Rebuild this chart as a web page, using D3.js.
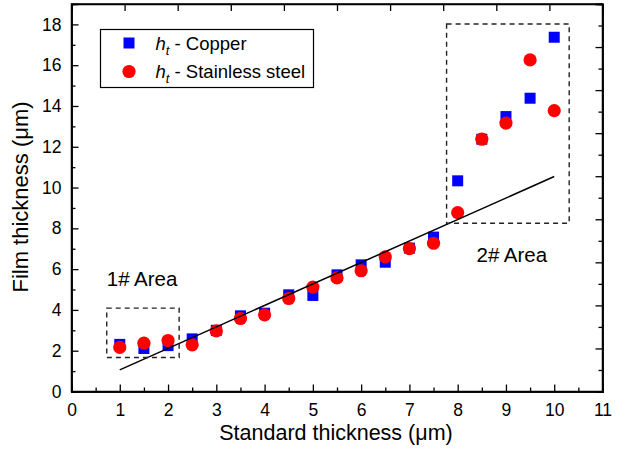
<!DOCTYPE html>
<html>
<head>
<meta charset="utf-8">
<script src="https://cdn.jsdelivr.net/npm/d3@7/dist/d3.min.js"></script>
<style>
  html, body { margin: 0; padding: 0; background: #fff; }
  svg { display: block; font-family: "Liberation Sans", Arial, sans-serif; }
</style>
</head>
<body>
<svg id="chart" width="623" height="449"></svg>
<script>
// Standard thickness (µm) of each sample
const standardThickness = [1, 1.5, 2, 2.5, 3, 3.5, 4, 4.5, 5, 5.5, 6, 6.5, 7, 7.5, 8, 8.5, 9, 9.5, 10];
// Measured film thickness h_t (µm) on copper substrate
const copperThickness = [2.31, 2.11, 2.25, 2.58, 3.0, 3.71, 3.84, 4.74, 4.71, 5.72, 6.21, 6.34, 7.03, 7.57, 10.33, 12.37, 13.48, 14.38, 17.37];
// Measured film thickness h_t (µm) on stainless steel substrate
const steelThickness = [2.16, 2.37, 2.5, 2.29, 2.97, 3.58, 3.76, 4.56, 5.12, 5.57, 5.92, 6.6, 7.01, 7.27, 8.77, 12.37, 13.16, 16.26, 13.77];
// Reference line endpoints
const fitX = [1, 10];
const fitY = [1.06, 10.54];
// Highlighted regions
const areaNames = ["1# Area", "2# Area"];
const areaX0 = [0.73, 7.77];
const areaX1 = [2.23, 10.31];
const areaY0 = [1.67, 8.25];
const areaY1 = [4.09, 18.02];
const areaLabelX = [0.73, 8.39];
const areaLabelY = [5.15, 6.37];
// Axis ticks
const xTickValues = d3.range(0, 12, 1);
const yTickValues = d3.range(0, 20, 2);

const svg = d3.select("#chart");
const plotLeft = 71.5, plotRight = 602.5, plotTop = 4, plotBottom = 391.5;

const x = d3.scaleLinear().domain([0, 11]).range([plotLeft, plotRight]);
const y = d3.scaleLinear().domain([0, 19]).range([plotBottom, plotTop]);
// secondary frame scales used for the top/right tick marks
const xTop = d3.scaleLinear().domain([0, 10]).range([plotLeft, plotRight]);
const yRight = d3.scaleLinear().domain([0, 18]).range([plotBottom, plotTop]);

const tickFont = "17.5px";

// Bottom axis: major ticks + labels, minor ticks inward
const gx = svg.append("g").attr("transform", `translate(0,${plotBottom})`);
gx.call(d3.axisBottom(x).tickValues(xTickValues).tickSize(-7).tickPadding(12).tickFormat(d3.format("d")));
gx.append("g").call(d3.axisBottom(x).tickValues(d3.range(0.5, 11, 1)).tickSize(-4).tickFormat(""));

// Left axis
const gy = svg.append("g").attr("transform", `translate(${plotLeft},0)`);
gy.call(d3.axisLeft(y).tickValues(yTickValues).tickSize(-7).tickPadding(10).tickFormat(d3.format("d")));
gy.append("g").call(d3.axisLeft(y).tickValues(d3.range(1, 19, 2)).tickSize(-4).tickFormat(""));

// Top frame ticks
const gt = svg.append("g").attr("transform", `translate(0,${plotTop})`);
gt.call(d3.axisTop(xTop).tickValues(d3.range(0, 11, 1)).tickSize(-7).tickFormat(""));

// Right frame ticks
const gr = svg.append("g").attr("transform", `translate(${plotRight},0)`);
gr.call(d3.axisRight(yRight).tickValues(d3.range(0, 19, 2)).tickSize(-7).tickFormat(""));
gr.append("g").call(d3.axisRight(yRight).tickValues(d3.range(1, 18, 2)).tickSize(-4).tickFormat(""));

svg.selectAll(".domain").attr("stroke", "#000").attr("stroke-width", 1.5);
svg.selectAll(".tick line").attr("stroke", "#000").attr("stroke-width", 1.3);
svg.selectAll(".tick text").attr("font-size", tickFont).attr("font-family", "Liberation Sans, Arial, sans-serif").attr("fill", "#000");

// Plot frame
svg.append("rect")
  .attr("x", plotLeft).attr("y", plotTop)
  .attr("width", plotRight - plotLeft).attr("height", plotBottom - plotTop)
  .attr("fill", "none").attr("stroke", "#000").attr("stroke-width", 1.5);

// Axis titles
svg.append("text")
  .attr("x", (plotLeft + plotRight) / 2 - 1).attr("y", 439.5)
  .attr("text-anchor", "middle").attr("font-size", "21.5px")
  .text("Standard thickness (μm)");
svg.append("text")
  .attr("transform", `translate(28,${197}) rotate(-90)`)
  .attr("text-anchor", "middle").attr("font-size", "22px")
  .text("Film thickness (μm)");

const plot = svg.append("g");

// Copper: blue squares
const sq = 11;
plot.selectAll("rect.copper")
  .data(standardThickness.map((v, i) => [v, copperThickness[i]]))
  .join("rect").attr("class", "copper")
  .attr("x", d => x(d[0]) - sq / 2).attr("y", d => y(d[1]) - sq / 2)
  .attr("width", sq).attr("height", sq)
  .attr("fill", "#0000ff");

// Stainless steel: red circles
plot.selectAll("circle.steel")
  .data(standardThickness.map((v, i) => [v, steelThickness[i]]))
  .join("circle").attr("class", "steel")
  .attr("cx", d => x(d[0])).attr("cy", d => y(d[1]))
  .attr("r", 6.6)
  .attr("fill", "#ff0000");

// Reference line
plot.append("path")
  .datum(fitX.map((v, i) => [v, fitY[i]]))
  .attr("d", d3.line().x(d => x(d[0])).y(d => y(d[1])))
  .attr("fill", "none").attr("stroke", "#000").attr("stroke-width", 1.5);

// Dashed region boxes and labels
areaNames.forEach((name, i) => {
  plot.append("rect")
    .attr("x", x(areaX0[i])).attr("y", y(areaY1[i]))
    .attr("width", x(areaX1[i]) - x(areaX0[i]))
    .attr("height", y(areaY0[i]) - y(areaY1[i]))
    .attr("fill", "none").attr("stroke", "#222").attr("stroke-width", 1.4)
    .attr("stroke-dasharray", "5,4");
  plot.append("text")
    .attr("x", x(areaLabelX[i])).attr("y", y(areaLabelY[i]))
    .attr("font-size", "20.5px").attr("fill", "#000")
    .text(name);
});

// Legend
const legend = svg.append("g");
legend.append("rect")
  .attr("x", 100.5).attr("y", 29.5).attr("width", 213).attr("height", 58)
  .attr("fill", "#fff").attr("stroke", "#000").attr("stroke-width", 1.2);
const legendItems = [
  { label: " - Copper", shape: "square", color: "#0000ff", cy: 43 },
  { label: " - Stainless steel", shape: "circle", color: "#ff0000", cy: 71.5 }
];
legendItems.forEach(item => {
  if (item.shape === "square") {
    legend.append("rect")
      .attr("x", 129 - sq / 2).attr("y", item.cy - sq / 2)
      .attr("width", sq).attr("height", sq).attr("fill", item.color);
  } else {
    legend.append("circle")
      .attr("cx", 129).attr("cy", item.cy).attr("r", 6.6).attr("fill", item.color);
  }
  const t = legend.append("text")
    .attr("x", 155.5).attr("y", item.cy + 6.5)
    .attr("font-size", "18.5px").attr("fill", "#000");
  t.append("tspan").attr("font-style", "italic").text("h");
  t.append("tspan").attr("font-style", "italic").attr("font-size", "13px").attr("dy", 5).text("t");
  t.append("tspan").attr("dy", -5).text(item.label);
});
</script>
</body>
</html>
